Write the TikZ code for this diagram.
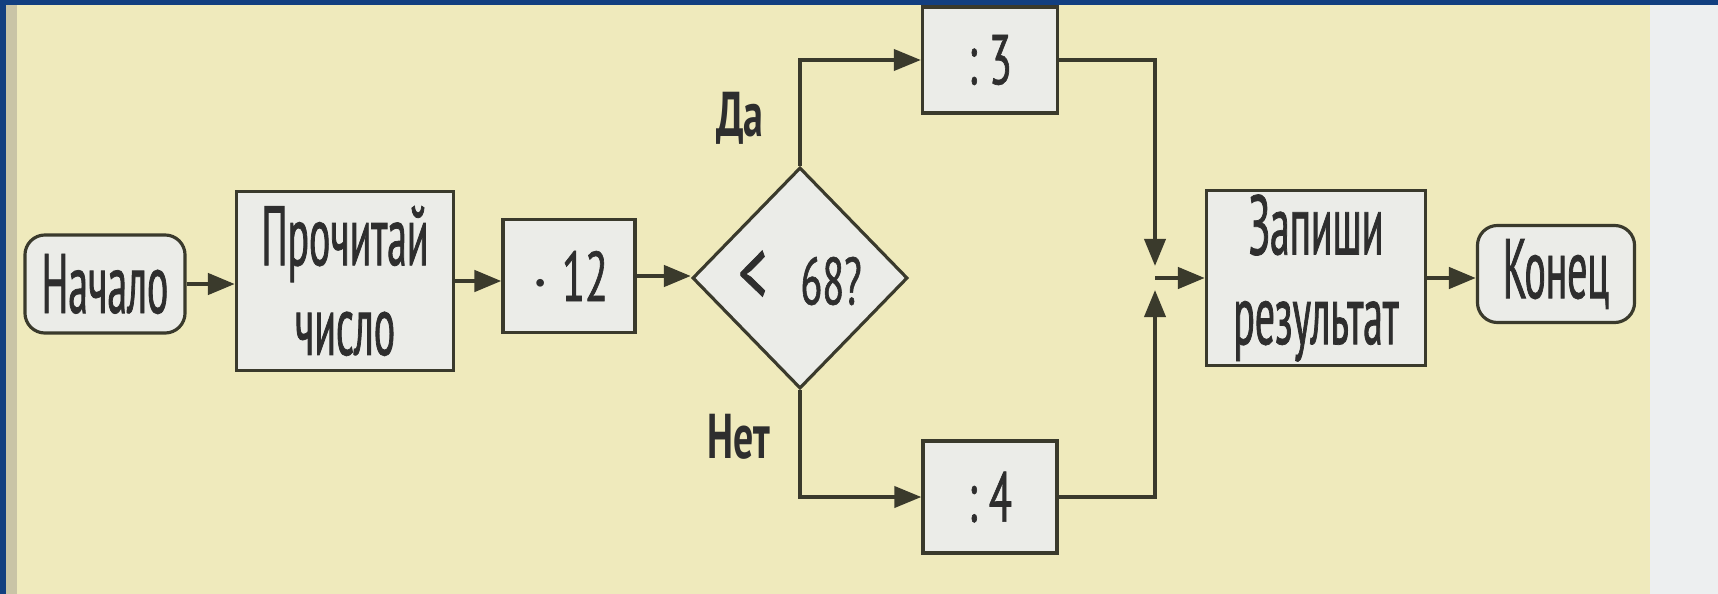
\documentclass[tikz,border=0pt]{standalone}
\usepackage{fontspec}
\setmainfont{PT Sans}
\newfontfamily\wordfont{PT Sans}[FakeStretch=0.47,FakeBold=0.9]
\newfontfamily\numfont{PT Sans}[FakeStretch=0.6,FakeBold=0.9]
\newfontfamily\labfont{PT Sans Bold}[FakeStretch=0.63]
\usetikzlibrary{shapes.geometric,arrows.meta}
\definecolor{bgyellow}{HTML}{EFEABC}
\definecolor{rightc}{HTML}{EDEFF0}
\definecolor{bluec}{HTML}{123F80}
\definecolor{shadec}{HTML}{C9C4A6}
\definecolor{boxc}{HTML}{EBECE8}
\definecolor{linec}{HTML}{3A3A2C}
\definecolor{txtc}{HTML}{2E2E2E}
\tikzset{
  box/.style={draw=linec, fill=boxc, line width=0.9pt, inner sep=0pt, align=center, text=txtc},
  term/.style={box, rounded corners=0.2cm},
  decision/.style={box, diamond, aspect=1},
  words/.style={font=\wordfont\fontsize{24}{25.5}\selectfont},
  nums/.style={font=\numfont\fontsize{20}{22}\selectfont},
  lab/.style={font=\labfont\fontsize{18}{20}\selectfont, text=txtc},
  flow/.style={draw=linec, line width=1.3pt, -{Triangle[length=0.27cm,width=0.21cm]}},
  thinflow/.style={flow, line width=1.1pt}
}
\begin{document}
\begin{tikzpicture}[x=0.01cm,y=-0.01cm]
\useasboundingbox (0,0) rectangle (1718,594);
% background
\fill[bgyellow] (0,0) rectangle (1650,594);
\fill[rightc] (1650,0) rectangle (1718,594);
\fill[shadec] (6,0) rectangle (17,594);
\fill[bluec] (0,0) rectangle (6,594);
% nodes
\node[term, words, minimum width=1.60cm, minimum height=0.98cm] (nach) at (105,284) {Начало};
\node[box, words, minimum width=2.17cm, minimum height=1.79cm] (proch) at (345,281) {Прочитай\\число};
\node[box, nums, minimum width=1.32cm, minimum height=1.13cm] (mul) at (569,276) {$\cdot$\,12};
\node[decision, minimum width=2.15cm, minimum height=2.21cm] (dia) at (800,278) {};
\node[font=\numfont\fontsize{19}{20}\selectfont, text=txtc] (cond) at (dia.center) {{\fontsize{27}{20}\selectfont<}\enspace68?};
\node[box, nums, minimum width=1.35cm, minimum height=1.06cm] (d3) at (990,60) {:\,3};
\node[box, nums, minimum width=1.34cm, minimum height=1.12cm] (d4) at (990,497) {:\,4};
\node[box, words, minimum width=2.19cm, minimum height=1.75cm] (zap) at (1316,278) {Запиши\\результат};
\node[term, words, minimum width=1.57cm, minimum height=0.97cm] (kon) at (1556,274) {Конец};
% labels
\node[lab] (da) at (740,118) {Да};
\node[lab] (net) at (739,437) {Нет};
% junction
\coordinate (J) at (1155,278);
\coordinate (Jt) at (1155,266);
\coordinate (Jb) at (1155,290);
% connectors
\draw[flow] (nach.east) -- (nach.east -| proch.west);
\draw[flow] (proch.east) -- (proch.east -| mul.west);
\draw[flow] (mul.east) -- (mul.east -| dia.west);
\draw[thinflow] (dia.north) |- (d3.west);
\draw[thinflow] (dia.south) |- (d4.west);
\draw[thinflow] (d3.east) -| (Jt);
\draw[thinflow] (d4.east) -| (Jb);
\draw[flow] (J) -- (J -| zap.west);
\draw[flow] (zap.east) -- (zap.east -| kon.west);
% top border
\fill[bluec] (0,0) rectangle (1718,5);
\end{tikzpicture}
\end{document}
